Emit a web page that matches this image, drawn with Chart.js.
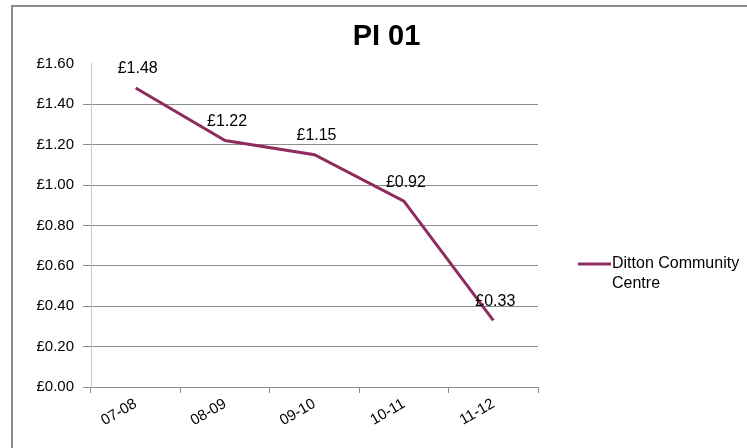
<!DOCTYPE html>
<html>
<head>
<meta charset="utf-8">
<script src="https://cdn.jsdelivr.net/npm/chart.js@4.4.1/dist/chart.umd.min.js"></script>
<style>
  html, body { margin: 0; padding: 0; background: #fff; }
  #wrap { position: relative; width: 747px; height: 448px; }
</style>
</head>
<body>
<div id="wrap"><canvas id="c" width="747" height="448"></canvas></div>
<script>
// Cost per visit, by financial year
const years = ['07-08', '08-09', '09-10', '10-11', '11-12'];
const dittonCost = [1.48, 1.22, 1.15, 0.92, 0.33];
const seriesName = ['Ditton Community', 'Centre'];
const yTicks = [0, 0.2, 0.4, 0.6, 0.8, 1.0, 1.2, 1.4, 1.6];

const FONT = '"Liberation Sans", Arial, sans-serif';
const LINE = '#8E2B5F';
const GRID = '#8c8c8c';
const money = v => '£' + v.toFixed(2);

// Outer frame of the chart object
const framePlugin = {
  id: 'frame',
  beforeDraw(chart) {
    const ctx = chart.ctx;
    ctx.save();
    ctx.fillStyle = '#fff';
    ctx.fillRect(0, 0, chart.width, chart.height);
    ctx.strokeStyle = GRID;
    ctx.lineWidth = 2;
    ctx.beginPath();
    ctx.moveTo(12, chart.height);
    ctx.lineTo(12, 6);
    ctx.lineTo(chart.width, 6);
    ctx.stroke();
    ctx.restore();
  }
};

// Value labels above each point
const valueLabels = {
  id: 'valueLabels',
  afterDatasetsDraw(chart) {
    const ctx = chart.ctx;
    const meta = chart.getDatasetMeta(0);
    ctx.save();
    ctx.font = '16px ' + FONT;
    ctx.fillStyle = '#000';
    ctx.textAlign = 'center';
    ctx.textBaseline = 'middle';
    meta.data.forEach((pt, i) => {
      ctx.fillText(money(dittonCost[i]), pt.x + 2, pt.y - 19);
    });
    ctx.restore();
  }
};

// Legend on the right, with the series name wrapped over two lines
const sideLegend = {
  id: 'sideLegend',
  afterDraw(chart) {
    const ctx = chart.ctx;
    const x0 = 578, y0 = 264;
    ctx.save();
    ctx.strokeStyle = LINE;
    ctx.lineWidth = 3;
    ctx.beginPath();
    ctx.moveTo(x0, y0);
    ctx.lineTo(x0 + 33, y0);
    ctx.stroke();
    ctx.font = '16px ' + FONT;
    ctx.fillStyle = '#000';
    ctx.textAlign = 'left';
    ctx.textBaseline = 'middle';
    seriesName.forEach((t, i) => ctx.fillText(t, x0 + 34, y0 + i * 20));
    ctx.restore();
  }
};

new Chart(document.getElementById('c'), {
  type: 'line',
  data: {
    labels: years,
    datasets: [{
      label: seriesName.join(' '),
      data: dittonCost,
      borderColor: LINE,
      borderWidth: 3,
      pointRadius: 0,
      tension: 0,
      fill: false
    }]
  },
  options: {
    responsive: false,
    animation: false,
    layout: { padding: { left: 26, right: 0, top: 0, bottom: 0 } },
    plugins: {
      legend: { display: false },
      tooltip: { enabled: false },
      title: {
        display: true,
        text: 'PI 01',
        color: '#000',
        font: { family: FONT, size: 29, weight: 'bold', lineHeight: 1.2 },
        padding: { top: 20, bottom: 9 }
      }
    },
    scales: {
      x: {
        offset: true,
        grid: {
          offset: true,
          drawOnChartArea: false,
          drawTicks: true,
          tickLength: 6,
          color: GRID
        },
        border: { color: GRID, width: 1 },
        ticks: {
          color: '#000',
          font: { family: FONT, size: 15 },
          minRotation: 30,
          maxRotation: 30,
          padding: 2
        },
        afterFit(scale) { scale.height = 61; }
      },
      y: {
        min: 0,
        max: 1.6,
        afterBuildTicks(scale) { scale.ticks = yTicks.map(v => ({ value: v })); },
        grid: {
          color: ctx => (ctx.tick && ctx.tick.value >= 1.6 ? 'rgba(0,0,0,0)' : GRID),
          tickColor: ctx => (ctx.tick && ctx.tick.value >= 1.6 ? 'rgba(0,0,0,0)' : GRID),
          tickLength: 8,
          drawTicks: true
        },
        border: { color: '#c8c8c8', width: 1 },
        ticks: {
          color: '#000',
          font: { family: FONT, size: 15 },
          padding: 9,
          callback: v => money(v)
        },
        afterFit(scale) { scale.width = 65; }
      },
      // empty axis on the right keeps room for the legend
      side: {
        position: 'right',
        display: true,
        grid: { display: false },
        border: { display: false },
        ticks: { display: false },
        afterFit(scale) { scale.width = 209; }
      }
    }
  },
  plugins: [framePlugin, valueLabels, sideLegend]
});
</script>
</body>
</html>
